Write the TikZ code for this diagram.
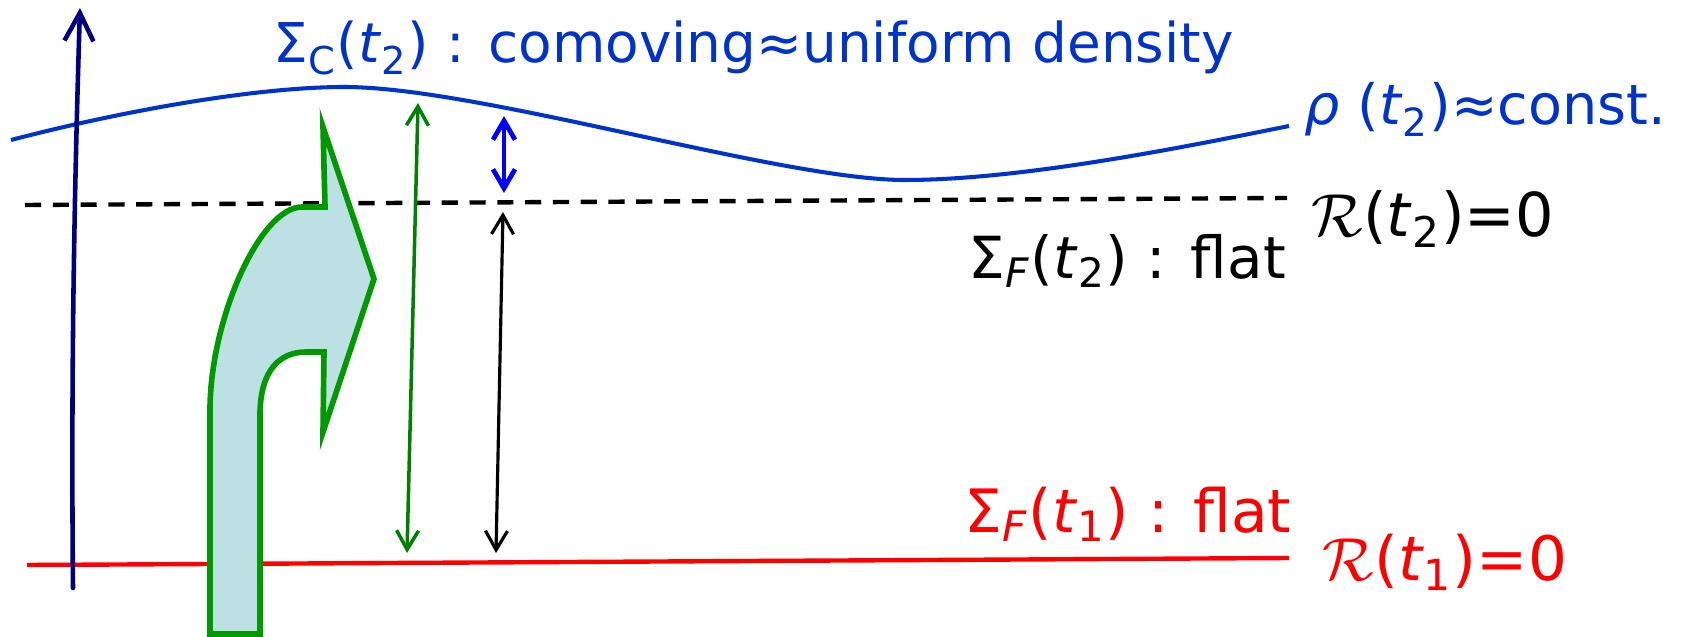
\documentclass[tikz,border=0pt]{standalone}
\usepackage{fontspec}
\setmainfont{DejaVu Sans}
\usetikzlibrary{arrows.meta}
\definecolor{navyax}{RGB}{0,0,128}
\definecolor{surfblue}{RGB}{0,51,204}
\definecolor{pureblue}{RGB}{0,0,255}
\definecolor{darkgreen}{RGB}{0,128,0}
\definecolor{outlinegreen}{RGB}{0,153,0}
\definecolor{arrowfill}{RGB}{188,224,228}
\definecolor{purered}{RGB}{255,0,0}
\tikzset{
  lbl/.style={inner sep=0pt, anchor=base west},
  barbs/.style={{Straight Barb[length=1.9mm,width=2.2mm]}-{Straight Barb[length=1.9mm,width=2.2mm]}, line cap=round, line join=round},
  axisarrow/.style={-{Straight Barb[length=2.8mm,width=2.9mm]}, line cap=round, line join=round},
}
\begin{document}
\begin{tikzpicture}[x=0.01cm,y=-0.01cm]
\useasboundingbox (0,0) rectangle (1686,637);
% coordinates
\coordinate (dashL) at (25,205);
\coordinate (dashR) at (1287,198);
\coordinate (redL) at (27,565);
\coordinate (redR) at (1289,558);
\coordinate (axB) at (73,588);
\coordinate (axT) at (80,8);
\coordinate (gB) at (407,553);
\coordinate (gT) at (418,103);
\coordinate (kB) at (496,553);
\coordinate (kT) at (503,212);
\coordinate (bB) at (504,193);
\coordinate (bT) at (504,116);
% flat surface t2 (dashed)
\draw[black, line width=1.25pt, dash pattern=on 4.6pt off 3.3pt] (dashL) -- (dashR);
% flat surface t1
\draw[purered, line width=1.25pt] (redL) -- (redR);
% comoving surface
\draw[surfblue, line width=1.15pt] (11,140) .. controls (130,109) and (260,87) .. (344,87)
  .. controls (480,87) and (780,180) .. (905,180)
  .. controls (1020,180) and (1180,148) .. (1289,126);
% time axis
\draw[navyax, line width=1.3pt, axisarrow] (axB) .. controls (71,380) and (74,200) .. (axT);
% bent block arrow
\draw[outlinegreen, fill=arrowfill, line width=1.6pt, line join=miter]
  (210,634) -- (210,410) .. controls (210,320) and (260,207) .. (302,207) -- (325,207)
  -- (323,127) -- (374,279) -- (323,432) -- (324,352) -- (306,352)
  .. controls (280,352) and (260,370) .. (260,415) -- (260,634) -- cycle;
% measurement arrows
\draw[darkgreen, line width=1pt, barbs] (gB) -- (gT);
\draw[black, line width=0.9pt, barbs] (kB) -- (kT);
\draw[pureblue, line width=1.35pt, barbs] (bB) -- (bT);
% labels
\node[lbl, text=surfblue, font=\fontsize{15.6}{18}\selectfont] (title) at (273,63)
  {Σ\textsubscript{C}(\textit{t}\textsubscript{2}) : comoving≈uniform density};
\node[lbl, text=surfblue, font=\fontsize{15.8}{18}\selectfont] (rho) at (1304,125)
  {\textit{ρ} (\textit{t}\textsubscript{2})≈const.};
\node[lbl, font=\fontsize{17.2}{20}\selectfont] (R2) at (1311,237)
  {$\mathcal{R}$(\textit{t}\textsubscript{2})=0};
\node[lbl, font=\fontsize{16.5}{20}\selectfont] (SF2) at (968,278)
  {Σ\textsubscript{\textit{F}}(\textit{t}\textsubscript{2}) : flat};
\node[lbl, text=purered, font=\fontsize{17}{20}\selectfont] (SF1) at (964,532)
  {Σ\textsubscript{\textit{F}}(\textit{t}\textsubscript{1}) : flat};
\node[lbl, text=purered, font=\fontsize{17.4}{20}\selectfont] (R1) at (1322,580)
  {$\mathcal{R}$(\textit{t}\textsubscript{1})=0};
\end{tikzpicture}
\end{document}
